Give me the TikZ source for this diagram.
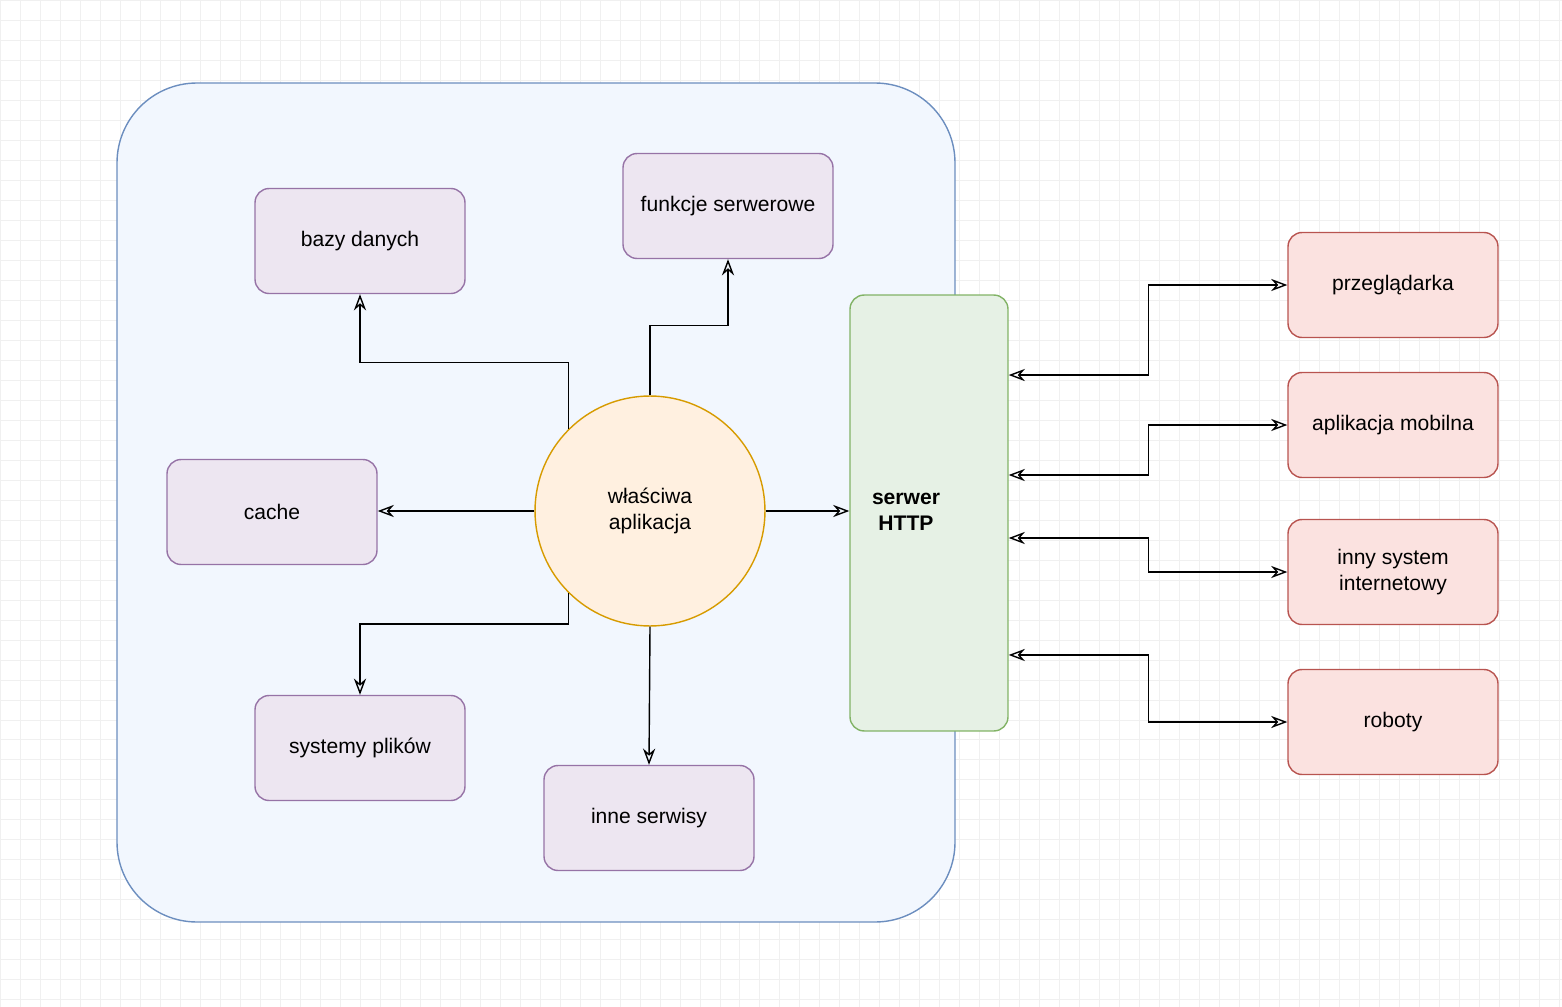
\documentclass[tikz,border=0pt]{standalone}
\usepackage{fontspec}
\setmainfont{Liberation Sans}
\usetikzlibrary{arrows.meta, patterns}

\definecolor{blueline}{HTML}{6C8EBF}
\definecolor{bluefill}{HTML}{DAE8FC}
\definecolor{purpline}{HTML}{9673A6}
\definecolor{purpfill}{HTML}{E1D5E7}
\definecolor{orline}{HTML}{D79B00}
\definecolor{orfill}{HTML}{FFE6CC}
\definecolor{grline}{HTML}{82B366}
\definecolor{grfill}{HTML}{D5E8D4}
\definecolor{redline}{HTML}{B85450}
\definecolor{redfill}{HTML}{F8CECC}

\tikzset{
    box/.style={draw=purpline, fill=purpfill!60, thick, rounded corners=8pt,
        minimum width=4.2cm, minimum height=2.1cm, align=center,
        font=\fontsize{12}{15}\selectfont},
    client/.style={box, draw=redline, fill=redfill!60},
    arr/.style={-{Stealth[open, scale=1.4]}, thick},
    arrs/.style={{Stealth[open, scale=1.4]}-{Stealth[open, scale=1.4]}, thick}
}

\begin{document}
\begin{tikzpicture}[x=0.02cm, y=-0.02cm]
        \useasboundingbox (0,0) rectangle (1562,1007);
        \draw[black!6] (0,0) grid[step=0.4cm] (1562,1007);

        % container
        \draw[blueline, thick, fill=bluefill!35, rounded corners=1.6cm] (117,83) rectangle (955,922);

        \node[box] (db) at (360,241) {bazy danych};
        \node[box] (fn) at (728,206) {funkcje serwerowe};
        \node[box] (cache) at (272,512) {cache};
        \node[box] (fs) at (360,748) {systemy plików};
        \node[box] (other) at (649,818) {inne serwisy};

        \node[circle, draw=orline, fill=orfill!60, thick, minimum size=4.6cm, align=center,
            font=\fontsize{12}{15}\selectfont] (app) at (650,511) {właściwa\\aplikacja};

        \node[draw=grline, fill=grfill!60, thick, rounded corners=8pt, minimum width=3.16cm,
            minimum height=8.72cm] (http) at (929,513) {};
        \node[align=center, font=\fontsize{12}{15}\selectfont\bfseries] (httplabel) at (906,512) {serwer\\HTTP};

        \node[client] (browser) at (1393,285) {przeglądarka};
        \node[client] (mobile) at (1393,425) {aplikacja mobilna};
        \node[client] (web) at (1393,572) {inny system\\internetowy};
        \node[client] (bots) at (1393,722) {roboty};

        \draw[arr] (app.north) -- ++(0,-70) -| (fn.south);
        \draw[arr] (app.135) -- ++(0,-67) -| (db.south);
        \draw[arr] (app.west) -- (cache.east |- app.west);
        \draw[arr] (app.225) -- ++(0,31) -| (fs.north);
        \draw[arr] (app.south) -- (other.north);
        \draw[arr] (app.east) -- (http.west |- app.east);

        \draw[arrs] ([yshift=2.76cm]http.east) -- ++(140,0) |- (browser.west);
        \draw[arrs] ([yshift=0.76cm]http.east) -- ++(140,0) |- (mobile.west);
        \draw[arrs] ([yshift=-0.5cm]http.east) -- ++(140,0) |- (web.west);
        \draw[arrs] ([yshift=-2.84cm]http.east) -- ++(140,0) |- (bots.west);

    \end{tikzpicture}
\end{document}
